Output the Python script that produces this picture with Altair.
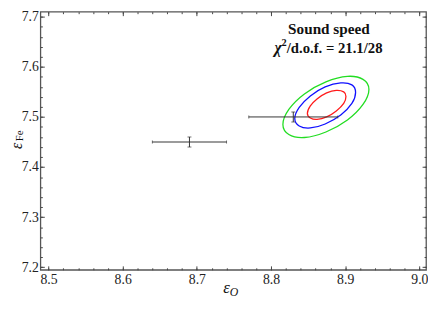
import altair as alt
import pandas as pd

# ---- data ----
x_ticks = [8.5, 8.6, 8.7, 8.8, 8.9, 9.0]
y_ticks = [7.2, 7.3, 7.4, 7.5, 7.6, 7.7]
x_minor = [8.50, 8.52, 8.54, 8.56, 8.58, 8.60, 8.62, 8.64, 8.66, 8.68, 8.70, 8.72, 8.74,
           8.76, 8.78, 8.80, 8.82, 8.84, 8.86, 8.88, 8.90, 8.92, 8.94, 8.96, 8.98, 9.00]
y_minor = [7.20, 7.22, 7.24, 7.26, 7.28, 7.30, 7.32, 7.34, 7.36, 7.38, 7.40, 7.42, 7.44,
           7.46, 7.48, 7.50, 7.52, 7.54, 7.56, 7.58, 7.60, 7.62, 7.64, 7.66, 7.68, 7.70]

# error-bar points
pt_x = [8.69, 8.83]
pt_y = [7.45, 7.50]
x_lo = [8.64, 8.77]
x_hi = [8.74, 8.89]
y_lo = [7.44, 7.49]
y_hi = [7.46, 7.51]

# confidence contours
red_x = [8.901, 8.898, 8.888, 8.875, 8.862, 8.853, 8.849, 8.853, 8.862, 8.875, 8.888, 8.898]
red_y = [7.541, 7.550, 7.553, 7.548, 7.536, 7.522, 7.507, 7.498, 7.495, 7.500, 7.512, 7.527]
blue_x = [8.914, 8.909, 8.894, 8.873, 8.853, 8.838, 8.832, 8.838, 8.853, 8.873, 8.894, 8.909]
blue_y = [7.549, 7.564, 7.568, 7.560, 7.542, 7.519, 7.497, 7.482, 7.478, 7.486, 7.504, 7.527]
green_x = [8.932, 8.924, 8.903, 8.874, 8.845, 8.824, 8.816, 8.824, 8.845, 8.874, 8.903, 8.924]
green_y = [7.555, 7.575, 7.581, 7.570, 7.546, 7.515, 7.485, 7.465, 7.459, 7.470, 7.494, 7.525]

title_line1 = "Sound speed"
chi_symbol = "χ"
chi_power = "2"
chi_rest = "/d.o.f. = 21.1/28"

# ---- tables ----
rows = []
for name, xs, ys in [("green", green_x, green_y), ("blue", blue_x, blue_y), ("red", red_x, red_y)]:
    for i, (a, b) in enumerate(zip(xs, ys)):
        rows.append({"level": name, "i": i, "x": a, "y": b})
ell_df = pd.DataFrame(rows)
pts_df = pd.DataFrame({"px": pt_x, "py": pt_y, "xlo": x_lo, "xhi": x_hi, "ylo": y_lo, "yhi": y_hi})
one = pd.DataFrame({"a": [0]})

W, H = 393, 263
FONT = "Liberation Serif"
xs = alt.Scale(domain=[8.489, 9.009], nice=False, zero=False)
ys = alt.Scale(domain=[7.195, 7.71], nice=False, zero=False)
TICK = "#444"


def ax(orient, values, size, offset=0, labels=False):
    kw = dict(orient=orient, values=values, tickSize=size, tickColor=TICK, tickWidth=1,
              domain=False, grid=False, title=None, labels=labels, offset=offset)
    if labels:
        kw.update(labelFont=FONT, labelFontSize=14, labelColor="#222", labelFlush=False,
                  labelOverlap=False, labelPadding=3 if orient == "bottom" else 2)
    return alt.Axis(**kw)


ell = alt.Chart(ell_df).mark_line(interpolate="cardinal-closed", strokeWidth=1.3).encode(
    x=alt.X("x:Q", scale=xs, axis=ax("bottom", x_ticks, 0, labels=True)),
    y=alt.Y("y:Q", scale=ys, axis=ax("left", y_ticks, 0, labels=True)),
    color=alt.Color("level:N", scale=alt.Scale(domain=["green", "blue", "red"],
                                               range=["#22dd22", "#1010ff", "#ff1a1a"]), legend=None),
    detail="level:N",
    order="i:Q",
)

# horizontal error bars, carry inward major ticks on bottom and left edges
hbar = alt.Chart(pts_df).mark_rule(color="#333", strokeWidth=1).encode(
    x=alt.X("xlo:Q", scale=xs, axis=ax("top", x_ticks, 4, offset=-H)),
    x2="xhi:Q",
    y=alt.Y("py:Q", scale=ys, axis=ax("right", y_ticks, 4, offset=-W)),
)
# vertical error bars, carry inward major ticks on top and right edges
vbar = alt.Chart(pts_df).mark_rule(color="#333", strokeWidth=1).encode(
    x=alt.X("px:Q", scale=xs, axis=ax("bottom", x_ticks, 4, offset=-H)),
    y=alt.Y("ylo:Q", scale=ys, axis=ax("left", y_ticks, 4, offset=-W)),
    y2="yhi:Q",
)
# caps, carrying the minor ticks
cap_l = alt.Chart(pts_df).mark_tick(orient="vertical", size=3, thickness=1, color="#333").encode(
    x=alt.X("xlo:Q", scale=xs, axis=ax("top", x_minor, 2, offset=-H)),
    y=alt.Y("py:Q", scale=ys, axis=ax("right", y_minor, 2, offset=-W)),
)
cap_r = alt.Chart(pts_df).mark_tick(orient="vertical", size=3, thickness=1, color="#333").encode(
    x=alt.X("xhi:Q", scale=xs, axis=ax("bottom", x_minor, 2, offset=-H)),
    y=alt.Y("py:Q", scale=ys, axis=ax("left", y_minor, 2, offset=-W)),
)
cap_b = alt.Chart(pts_df).mark_tick(orient="horizontal", size=4, thickness=1, color="#333").encode(
    x=alt.X("px:Q", scale=xs, axis=None),
    y=alt.Y("ylo:Q", scale=ys, axis=None),
)
cap_t = alt.Chart(pts_df).mark_tick(orient="horizontal", size=4, thickness=1, color="#333").encode(
    x=alt.X("px:Q", scale=xs, axis=None),
    y=alt.Y("yhi:Q", scale=ys, axis=None),
)


def txt(text, x, y, size, weight="normal", style="normal", align="center", angle=0, baseline="alphabetic"):
    return alt.Chart(one).mark_text(text=text, font=FONT, fontSize=size, fontWeight=weight,
                                    fontStyle=style, align=align, angle=angle, baseline=baseline,
                                    color="#111").encode(x=alt.value(x), y=alt.value(y))


labels = [
    txt(title_line1, 294, 23, 15.5, weight="bold"),
    txt(chi_symbol, 246, 42, 16, weight="bold", style="italic", align="right"),
    txt(chi_power, 251, 35, 10.5, weight="bold", align="right"),
    txt(chi_rest, 251, 42, 15, weight="bold", align="left"),
    # x-axis title  ε_O
    txt("ε", 193, 287, 17, style="italic", align="right"),
    txt("O", 193, 290, 12, style="italic", align="left"),
    # y-axis title  ε_Fe (rotated)
    txt("ε", -24, 140, 16, style="italic", align="left", angle=270, baseline="middle"),
    txt("Fe", -21, 132, 11, align="left", angle=270, baseline="middle"),
]

chart = alt.layer(ell, hbar, vbar, cap_l, cap_r, cap_b, cap_t, *labels).resolve_axis(
    x="independent", y="independent"
).properties(
    width=W, height=H,
    autosize=alt.AutoSizeParams(type="none"),
    padding={"left": 33, "top": 1, "right": 2, "bottom": 28},
).configure_view(stroke="#555", strokeWidth=1.3)

chart.save("out.html", embed_options={"renderer": "svg", "actions": False})
